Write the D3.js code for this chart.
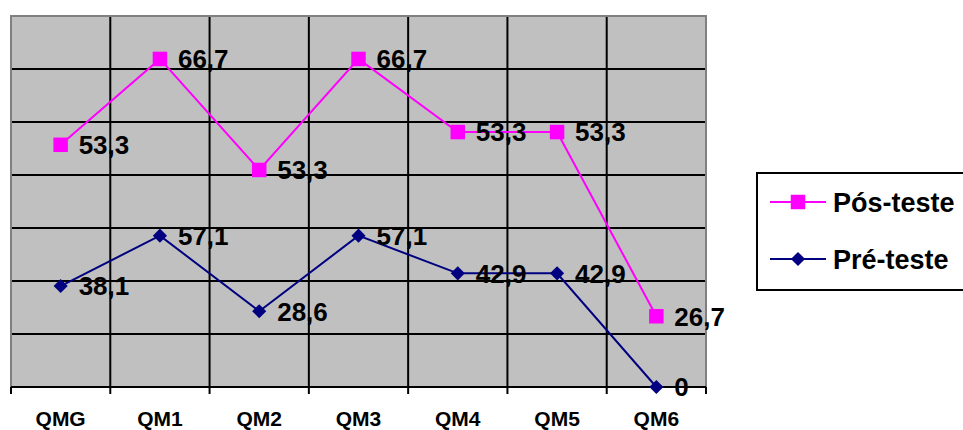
<!DOCTYPE html>
<html>
<head>
<meta charset="utf-8">
<script src="https://cdn.jsdelivr.net/npm/d3@7"></script>
<style>
  body { margin: 0; background: #fff; }
  text { font-family: Arial, "Liberation Sans", sans-serif; font-weight: bold; fill: #000; }
</style>
</head>
<body>
<div id="chart"></div>
<script>
// categories and the two series (stacked line chart, as in the original sheet)
const categories = ['QMG', 'QM1', 'QM2', 'QM3', 'QM4', 'QM5', 'QM6'];
const preTeste = [38.1, 57.1, 28.6, 57.1, 42.9, 42.9, 0];
const posTeste = [53.3, 66.7, 53.3, 66.7, 53.3, 53.3, 26.7];
const yTicks = [0, 20, 40, 60, 80, 100, 120, 140];

const width = 963;
const height = 430;
const plot = { left: 11, top: 16, right: 706, bottom: 387 };

const svg = d3.select('#chart')
  .append('svg')
    .attr('width', width)
    .attr('height', height);

// build a table for d3.stack
const table = categories.map((c, i) => ({ cat: c, pre: preTeste[i], pos: posTeste[i] }));
const stacked = d3.stack().keys(['pre', 'pos'])(table);

const x = d3.scaleBand()
    .domain(categories)
    .range([plot.left, plot.right]);
const y = d3.scaleLinear()
    .domain([0, 140])
    .range([plot.bottom, plot.top]);

// plot background
svg.append('rect')
    .attr('x', plot.left)
    .attr('y', plot.top)
    .attr('width', plot.right - plot.left)
    .attr('height', plot.bottom - plot.top)
    .attr('fill', '#c0c0c0');

// horizontal gridlines
svg.append('g')
  .selectAll('line')
  .data(yTicks.slice(1, -1))
  .join('line')
    .attr('x1', plot.left)
    .attr('x2', plot.right)
    .attr('y1', d => y(d))
    .attr('y2', d => y(d))
    .attr('stroke', '#000')
    .attr('stroke-width', 2);

// vertical gridlines between categories
svg.append('g')
  .selectAll('line')
  .data(categories.slice(1))
  .join('line')
    .attr('x1', d => x(d))
    .attr('x2', d => x(d))
    .attr('y1', plot.top)
    .attr('y2', plot.bottom)
    .attr('stroke', '#000')
    .attr('stroke-width', 2);

// gray plot border (left, top, right)
svg.append('path')
    .attr('d', `M${plot.left},${plot.bottom}V${plot.top}H${plot.right}V${plot.bottom}`)
    .attr('fill', 'none')
    .attr('stroke', '#808080')
    .attr('stroke-width', 2);

// x axis with ticks at category boundaries
const xAxis = svg.append('g');
xAxis.append('line')
    .attr('x1', plot.left)
    .attr('x2', plot.right)
    .attr('y1', plot.bottom)
    .attr('y2', plot.bottom)
    .attr('stroke', '#000')
    .attr('stroke-width', 2);
xAxis.selectAll('line.tick')
  .data(categories.map(c => x(c)).concat([plot.right]))
  .join('line')
    .attr('class', 'tick')
    .attr('x1', d => d)
    .attr('x2', d => d)
    .attr('y1', plot.bottom)
    .attr('y2', plot.bottom + 7)
    .attr('stroke', '#000')
    .attr('stroke-width', 2);
xAxis.selectAll('text')
  .data(categories)
  .join('text')
    .attr('x', d => x(d) + x.bandwidth() / 2)
    .attr('y', 426)
    .attr('text-anchor', 'middle')
    .style('font-size', '21px')
    .text(d => d);

const cx = (d) => x(d.data.cat) + x.bandwidth() / 2;

// square for Pós-teste, square turned 45° (a true diamond) for Pré-teste
const series = [
  { layer: stacked[1], color: '#ff00ff', size: 210, rotate: 0, labels: posTeste },
  { layer: stacked[0], color: '#000080', size: 100, rotate: 45, labels: preTeste }
];

const line = d3.line()
    .x(cx)
    .y(d => y(d[1]));

series.forEach(s => {
  const g = svg.append('g');
  g.append('path')
      .datum(s.layer)
      .attr('d', line)
      .attr('fill', 'none')
      .attr('stroke', s.color)
      .attr('stroke-width', 2);
  g.selectAll('path.mark')
    .data(s.layer)
    .join('path')
      .attr('class', 'mark')
      .attr('transform', d => `translate(${cx(d)},${y(d[1])}) rotate(${s.rotate})`)
      .attr('d', d3.symbol().type(d3.symbolSquare).size(s.size))
      .attr('fill', s.color);
  g.selectAll('text')
    .data(s.layer)
    .join('text')
      .attr('x', d => cx(d) + 18)
      .attr('y', d => y(d[1]))
      .attr('dy', '0.36em')
      .style('font-size', '26px')
      .text((d, i) => String(s.labels[i]).replace('.', ','));
});

// legend
const legendNames = ['Pós-teste', 'Pré-teste'];
const legend = svg.append('g');
legend.append('rect')
    .attr('x', 757)
    .attr('y', 173)
    .attr('width', 220)
    .attr('height', 117)
    .attr('fill', '#fff')
    .attr('stroke', '#000')
    .attr('stroke-width', 2);
legendNames.forEach((name, i) => {
  const s = series[i];
  const ly = 202 + i * 57;
  legend.append('line')
      .attr('x1', 770)
      .attr('x2', 826)
      .attr('y1', ly)
      .attr('y2', ly)
      .attr('stroke', s.color)
      .attr('stroke-width', 2);
  legend.append('path')
      .attr('transform', `translate(798,${ly}) rotate(${s.rotate})`)
      .attr('d', d3.symbol().type(d3.symbolSquare).size(s.size))
      .attr('fill', s.color);
  legend.append('text')
      .attr('x', 833)
      .attr('y', ly)
      .attr('dy', '0.36em')
      .style('font-size', '27px')
      .text(name);
});
</script>
</body>
</html>
